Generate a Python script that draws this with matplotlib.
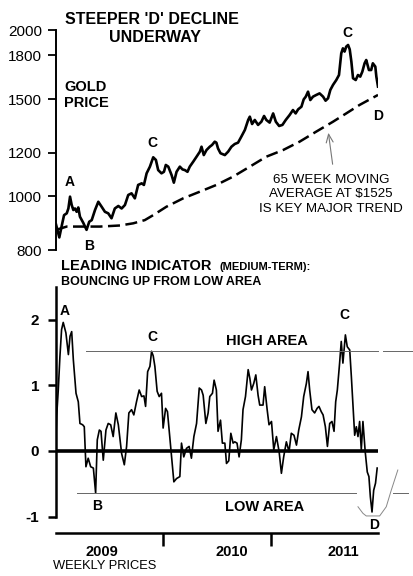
import matplotlib
matplotlib.use("Agg")
import matplotlib.pyplot as plt

plt.rcParams['font.family'] = ['Liberation Sans', 'DejaVu Sans']

# ---------------- data ----------------
gold_weeks = [0, 1.6, 2.7, 3.9, 5.2, 6.0, 6.8, 7.6, 8.4, 9.2, 10.0, 10.8, 11.6, 13.2, 14.8,
              16.1, 17.3, 18.9, 20.5, 22.1, 23.7, 25.3, 26.9, 28.5, 30.2, 31.8, 33.4, 35.0,
              36.6, 38.2, 39.8, 41.5, 42.6, 43.9, 45.5, 47.1, 48.4, 49.5, 51.1, 52.3, 53.2,
              54.4, 56.0, 57.1, 58.4, 60.0, 61.3, 62.4, 63.7, 64.8, 66.5, 68.1, 69.7, 70.5,
              71.6, 72.9, 74.5, 75.6, 76.9, 77.7, 78.5, 79.7, 81.8, 83.4, 85.0, 86.6, 88.2,
              89.8, 91.5, 93.1, 93.9, 95.0, 96.3, 97.9, 99.5, 100.8, 101.9, 103.5, 105.2,
              106.5, 108.1, 109.7, 111.3, 113.2, 114.8, 116.1, 117.3, 118.9, 120.0, 121.0,
              122.1, 123.2, 124.5, 126.1, 127.7, 129.4, 130.6, 131.8, 132.9, 134.2, 135.8,
              137.1, 138.2, 139.0, 139.8, 140.6, 141.5, 142.3, 143.1, 143.9, 145.2, 146.3,
              147.4, 148.4, 149.5, 150.3, 151.6, 152.7, 153.5, 154.7, 155.2, 156.0]
gold_price = [890, 843, 882, 925, 932, 951, 999, 965, 945, 951, 938, 955, 919, 896, 870,
              900, 906, 945, 978, 958, 938, 932, 913, 951, 961, 951, 965, 1006,
              1013, 992, 1049, 1056, 1049, 1101, 1132, 1177, 1164, 1116, 1101, 1108, 1140,
              1132, 1093, 1059, 1108, 1132, 1119, 1116, 1108, 1132, 1156, 1180, 1205, 1230,
              1188, 1213, 1230, 1239, 1256, 1251, 1221, 1197, 1188, 1205, 1230, 1244, 1251,
              1283, 1319, 1375, 1394, 1352, 1375, 1347, 1365, 1398, 1375, 1360, 1413,
              1365, 1341, 1347, 1375, 1404, 1433, 1413, 1437, 1453, 1498, 1515,
              1547, 1494, 1515, 1526, 1536, 1515, 1490, 1505, 1558, 1591, 1624,
              1658, 1815, 1853, 1828, 1866, 1879, 1845, 1753, 1636, 1624, 1658,
              1647, 1681, 1741, 1765, 1693, 1693, 1741, 1717, 1647, 1580]

ma_weeks = [0, 5.2, 14.8, 21.3, 31.0, 37.4, 43.0, 47.1, 53.5, 61.6, 69.7, 77.7, 85.8,
            93.9, 101.9, 110.0, 118.0, 126.1, 134.2, 140.6, 147.1, 156.0]
ma_price = [870, 882, 882, 882, 886, 894, 906, 925, 958, 992, 1020, 1049, 1086,
            1132, 1180, 1213, 1256, 1310, 1365, 1413, 1464, 1526]

ind_weeks = [0, 0.3, 1.1, 1.9, 2.7, 3.5, 4.8, 6.0, 6.8, 7.6, 8.4, 9.7, 10.8, 11.6, 12.9,
             13.7, 14.5, 15.6, 16.8, 18.1, 19.2, 20.0, 21.0, 21.8, 22.9, 24.2, 25.3, 26.5,
             27.7, 29.0, 30.2, 31.8, 33.1, 34.2, 35.3, 36.6, 37.7, 39.0, 40.3, 41.5, 42.6,
             43.4, 44.4, 45.5, 46.3, 47.1, 47.9, 49.0, 50.0, 51.1, 51.9, 53.1, 54.0, 54.8,
             56.0, 57.1, 58.4, 60.0, 60.8, 61.9, 63.2, 64.5, 65.6, 66.8, 68.1, 69.4, 70.5,
             71.3, 72.6, 73.7, 74.5, 75.8, 76.6, 77.7, 78.5, 79.7, 80.6, 81.8, 82.6, 83.7,
             84.7, 85.8, 86.6, 87.7, 88.7, 89.8, 90.6, 91.8, 93.1, 93.9, 94.7, 95.8, 96.8,
             97.9, 98.7, 100.3, 101.1, 102.3, 103.2, 104.4, 105.5, 106.8, 108.1, 109.2,
             110.3, 111.6, 112.9, 114.0, 115.3, 116.5, 117.6, 118.9, 120.0, 121.3, 122.1,
             122.9, 124.0, 125.3, 126.5, 127.4, 128.5, 129.4, 130.5, 131.5, 132.6, 133.7,
             134.7, 135.5, 136.3, 137.4, 138.2, 139.0, 140.2, 141.1, 142.3, 143.1, 143.9,
             144.7, 145.5, 146.3, 147.1, 147.9, 148.7, 149.8, 150.8, 151.6, 152.3, 153.1,
             153.9, 154.8, 155.6]
ind_value = [0.22, 0.52, 0.93, 1.44, 1.85, 1.96, 1.80, 1.47, 1.75, 1.82, 1.39, 0.88, 0.75, 0.42, 0.40,
             0.37, -0.24, -0.11, -0.24, -0.26, -0.64, 0.17, 0.32, 0.30, -0.14, 0.32, 0.42, 0.40,
             0.22, 0.58, 0.40, -0.04, -0.21, 0.07, 0.58, 0.63, 0.55, 0.75, 0.93, 0.83, 0.84,
             0.68, 1.21, 1.29, 1.52, 1.45, 1.29, 0.91, 0.83, 0.88, 0.35, 0.65, 0.60, 0.32,
             -0.09, -0.47, -0.42, -0.39, 0.12, -0.09, 0.04, 0.07, -0.11, 0.22, 0.42, 0.96, 0.93,
             0.85, 0.42, 0.58, 0.83, 0.88, 1.08, 0.93, 0.30, 0.47, 0.12, 0.12, -0.19, -0.15,
             0.27, 0.12, 0.14, 0.12, -0.09, 0.17, 0.63, 0.83, 1.24, 1.11, 0.93, 1.03, 1.16,
             0.85, 0.70, 0.70, 0.98, 0.63, 0.40, 0.45, 0.02, 0.22, -0.01, -0.34,
             -0.09, 0.14, -0.01, 0.27, 0.24, 0.09, 0.32, 0.52, 0.83, 1.03, 1.21,
             0.93, 0.63, 0.58, 0.65, 0.68, 0.60, 0.55, 0.37, 0.07, 0.42, 0.45,
             0.30, 0.75, 0.93, 1.34, 1.67, 1.34, 1.77, 1.59, 1.54, 1.13, 0.68,
             0.24, 0.37, 0.22, 0.45, 0.02, 0.45, -0.01, -0.32, -0.39, -0.70, -0.93,
             -0.60, -0.49, -0.26]

price_ticks = [800, 1000, 1200, 1500, 1800, 2000]
ind_ticks = [-1, 0, 1, 2]
year_labels = ['2009', '2010', '2011']
year_label_pos = [22.1, 85.3, 139.0]
year_bounds = [52, 104]
high_level = 1.53
low_level = -0.64
high_segments = [(14.5, 156.0), (158.4, 172.9)]
low_segments = [(10.0, 145.5), (163.2, 170.5)]
bounce_w = [146.3, 148.7, 150.3, 156.8, 160.0, 162.4, 165.6]
bounce_v = [-0.85, -0.95, -0.99, -0.99, -0.85, -0.60, -0.29]

W, H = 414, 576
fig = plt.figure(figsize=(W / 100, H / 100), dpi=100)
fig.patch.set_facecolor('white')


def fx(px):
    return px / W


def fy(py):
    return 1 - py / H


L, R = 56, 378
# ---------------- top panel ----------------
ax1 = fig.add_axes([fx(L), fy(250), fx(R) - fx(L), (250 - 30) / H])
ax1.set_yscale('log')
ax1.set_ylim(800, 2000)
ax1.set_xlim(0, 156)
ax1.plot(gold_weeks, gold_price, color='black', lw=1.9, solid_joinstyle='round')
ax1.plot(ma_weeks, ma_price, color='black', lw=1.8, dashes=(4.8, 2.2))
for s in ['top', 'right', 'bottom']:
    ax1.spines[s].set_visible(False)
ax1.spines['left'].set_linewidth(1.4)
ax1.set_xticks([])
ax1.set_yticks(price_ticks)
ax1.set_yticklabels([str(t) for t in price_ticks])
ax1.yaxis.set_minor_locator(matplotlib.ticker.NullLocator())
ax1.tick_params(axis='y', length=6, width=1.3, labelsize=11, pad=4, colors='black')

fig.text(fx(152), fy(20), "STEEPER 'D' DECLINE", ha='center', va='center',
         fontsize=11.5, fontweight='bold')
fig.text(fx(155), fy(38), "UNDERWAY", ha='center', va='center', fontsize=11.5, fontweight='bold')
fig.text(fx(64), fy(87), "GOLD", ha='left', va='center', fontsize=10.5, fontweight='bold')
fig.text(fx(64), fy(103), "PRICE", ha='left', va='center', fontsize=10.5, fontweight='bold')
for lbl, x, y in [('A', 70, 182), ('B', 89, 246), ('C', 152, 143), ('C', 347, 33), ('D', 378, 116)]:
    fig.text(fx(x), fy(y), lbl, ha='center', va='center', fontsize=10, fontweight='bold')
fig.text(fx(331), fy(180), "65 WEEK MOVING", ha='center', va='center', fontsize=9.6)
fig.text(fx(331), fy(194), "AVERAGE AT $1525", ha='center', va='center', fontsize=9.6)
fig.text(fx(331), fy(209), "IS KEY MAJOR TREND", ha='center', va='center', fontsize=9.6)
fig.add_artist(matplotlib.patches.FancyArrowPatch(
    (fx(333), fy(167)), (fx(328), fy(130)), transform=fig.transFigure,
    arrowstyle='->,head_length=6,head_width=2.5', color='#777777', lw=0.8))

# ---------------- bottom panel ----------------
ax2 = fig.add_axes([fx(L), fy(533), fx(R) - fx(L), (533 - 287) / H])
ax2.set_xlim(0, 156)
ax2.set_ylim(-1.25, 2.5)
ax2.plot(ind_weeks, ind_value, color='black', lw=1.2)
ax2.plot([0, 156], [0, 0], color='black', lw=2.6, solid_capstyle='butt')
for a, b in high_segments:
    ax2.plot([a, b], [high_level, high_level], color='#666666', lw=0.7, clip_on=False)
for a, b in low_segments:
    ax2.plot([a, b], [low_level, low_level], color='#666666', lw=0.7, clip_on=False)
ax2.plot(bounce_w, bounce_v, color='#888888', lw=0.7, clip_on=False)
for s in ['top', 'right']:
    ax2.spines[s].set_visible(False)
ax2.spines['left'].set_bounds(-1, 2.5)
ax2.spines['left'].set_linewidth(1.8)
ax2.spines['bottom'].set_bounds(0, 156)
ax2.spines['bottom'].set_linewidth(1.8)
ax2.set_yticks(ind_ticks)
ax2.set_yticklabels([str(t) for t in ind_ticks], fontweight='bold')
ax2.tick_params(axis='y', length=6, width=1.8, labelsize=11, pad=6)
ax2.set_xticks(year_bounds)
ax2.set_xticklabels(['', ''])
ax2.set_xticks(year_label_pos, minor=True)
ax2.set_xticklabels(year_labels, minor=True, fontweight='bold')
ax2.tick_params(axis='x', which='major', length=9, width=1.8, direction='out')
ax2.tick_params(axis='x', which='minor', length=0, labelsize=10.5, pad=9)

fig.text(fx(61), fy(266), "LEADING INDICATOR", ha='left', va='center', fontsize=10.5, fontweight='bold')
fig.text(fx(220), fy(267), "(MEDIUM-TERM):", ha='left', va='center', fontsize=8, fontweight='bold')
fig.text(fx(61), fy(282), "BOUNCING UP FROM LOW AREA", ha='left', va='center', fontsize=9, fontweight='bold')
for lbl, x, y in [('A', 65, 311), ('C', 152, 337), ('C', 344, 315), ('B', 97, 506), ('D', 374, 525)]:
    fig.text(fx(x), fy(y), lbl, ha='center', va='center', fontsize=10, fontweight='bold')
fig.text(fx(267), fy(341), "HIGH AREA", ha='center', va='center', fontsize=10.5, fontweight='bold')
fig.text(fx(265), fy(507), "LOW AREA", ha='center', va='center', fontsize=10.5, fontweight='bold')
fig.text(fx(53), fy(566), "WEEKLY PRICES", ha='left', va='center', fontsize=9.3)

fig.savefig('out.png', dpi=100, facecolor='white')
